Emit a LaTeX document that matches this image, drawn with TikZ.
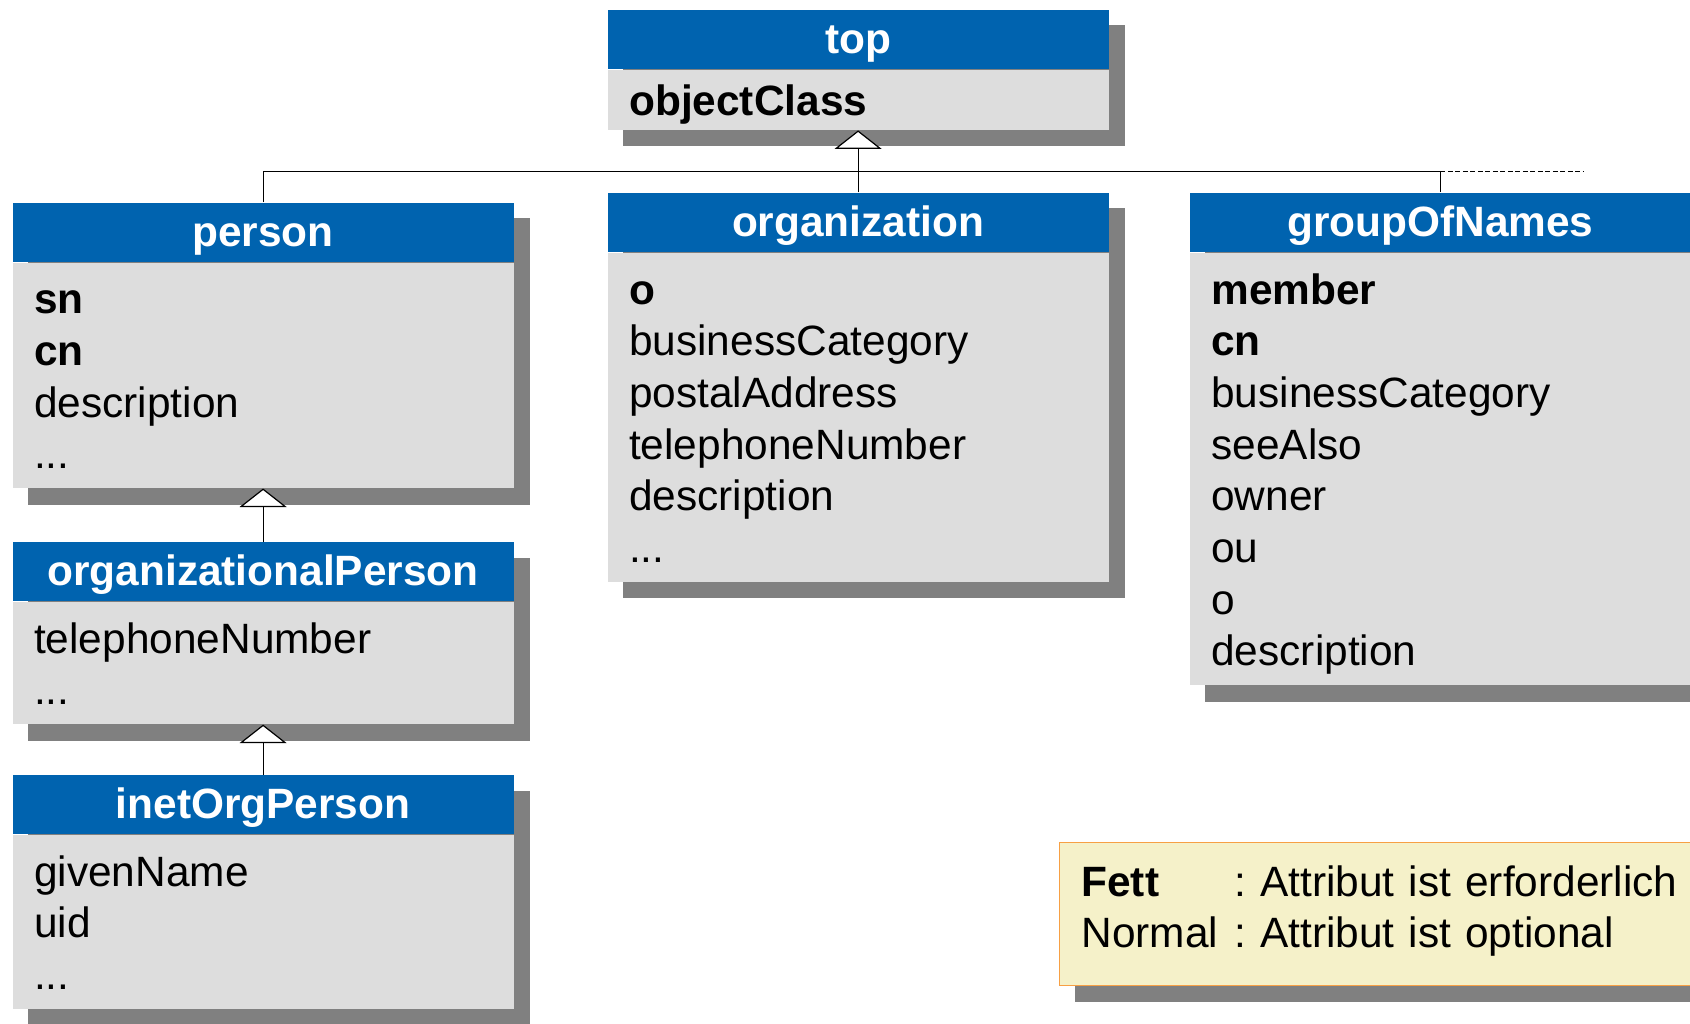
\documentclass[tikz,border=0pt]{standalone}
\usepackage{fontspec}
\setmainfont{Liberation Sans}
\usepackage{tikz}
\usetikzlibrary{arrows.meta, positioning, backgrounds}
\definecolor{headblue}{HTML}{0063AF}
\definecolor{attrgray}{HTML}{DDDDDD}
\definecolor{shadowgray}{HTML}{808080}
\definecolor{legendfill}{HTML}{F5F1C9}
\definecolor{legendorange}{HTML}{F7A044}

\begin{document}
\begin{tikzpicture}[
  x=0.5pt, y=-0.5pt, line width=0.6pt,
  every node/.style={font=\fontsize{21.2pt}{25.85pt}\selectfont\frenchspacing},
  classhead/.style={fill=headblue, text=white, font=\fontsize{21.2pt}{25.85pt}\selectfont\bfseries, minimum width=250.5pt, inner sep=0pt, text height=21.8pt, text depth=7.7pt},
  attrbase/.style={fill=attrgray, text width=228.9pt, inner xsep=10.8pt, inner ysep=0pt, align=left, below=0pt of #1},
  pads/.style 2 args={execute at begin node={\rule{0pt}{#1}}, execute at end node={\rule[-#2]{0pt}{0pt}}},
  attrs/.style={attrbase=#1, pads={25.4pt}{9.6pt}},
  legendbox/.style={fill=legendfill, draw=legendorange, line width=0.5pt, text width=330pt, inner xsep=11pt, inner ysep=0pt, align=left, pads={26.8pt}{18.8pt}},
  boxshadow/.style={fill=shadowgray},
  inherit/.style={-{Triangle[width=23.5pt, length=9.25pt, fill=white]}}
]
  \useasboundingbox (0,0) rectangle (1690,1023);
  \clip (0,0) rectangle (1690,1023);

  % classes
  \node[classhead, anchor=north west] (topclass) at (607,9) {top};
  \node[attrbase=topclass, pads={23pt}{7pt}] (topclass-attr) {\textbf{objectClass}};

  \node[classhead, below=31pt of topclass-attr] (organization) {organization};
  \node[attrs=organization] (organization-attr) {\textbf{o}\\ businessCategory\\ postalAddress\\ telephoneNumber\\ description\\ ...};

  \node[classhead, right=40pt of organization] (groupofnames) {groupOfNames};
  \node[attrs=groupofnames] (groupofnames-attr) {\textbf{member}\\ \textbf{cn}\\ businessCategory\\ seeAlso\\ owner\\ ou\\ o\\ description};

  \node[classhead, anchor=north west] (person) at (12,202) {person};
  \node[attrs=person] (person-attr) {\textbf{sn}\\ \textbf{cn}\\ description\\ ...};

  \node[classhead, below=26.5pt of person-attr] (orgperson) {organizationalPerson};
  \node[attrs=orgperson] (orgperson-attr) {telephoneNumber\\ ...};

  \node[classhead, below=25pt of orgperson-attr] (inetorgperson) {inetOrgPerson};
  \node[attrs=inetorgperson] (inetorgperson-attr) {givenName\\ uid\\ ...};

  % legend
  \node[legendbox, anchor=north west] (legend) at (1059,842) {\makebox[76.5pt][l]{\textbf{Fett}}: Attribut ist erforderlich\\ \makebox[76.5pt][l]{Normal}: Attribut ist optional};

  % shadows
  \begin{scope}[on background layer]
    \foreach \c in {topclass, organization, groupofnames, person, orgperson, inetorgperson}
      \fill[boxshadow] ([shift={(8pt,-8pt)}]\c.north west) rectangle ([shift={(8pt,-8pt)}]\c-attr.south east);
    \fill[boxshadow] ([shift={(8pt,-8pt)}]legend.north west) rectangle ([shift={(8pt,-8pt)}]legend.south east);
  \end{scope}

  % inheritance
  \coordinate[below=20.5pt of topclass-attr] (hub);
  \coordinate (gonhub) at (groupofnames.north |- hub);
  \coordinate[right=72pt of gonhub] (more);
  \draw (person.north) |- (hub) -| (groupofnames.north);
  \draw[dash pattern=on 2.5pt off 1.25pt] (gonhub) -- (more);
  \draw[inherit] (organization.north) -- (topclass-attr.south);
  \draw[inherit] (orgperson.north) -- (person-attr.south);
  \draw[inherit] (inetorgperson.north) -- (orgperson-attr.south);
\end{tikzpicture}
\end{document}
